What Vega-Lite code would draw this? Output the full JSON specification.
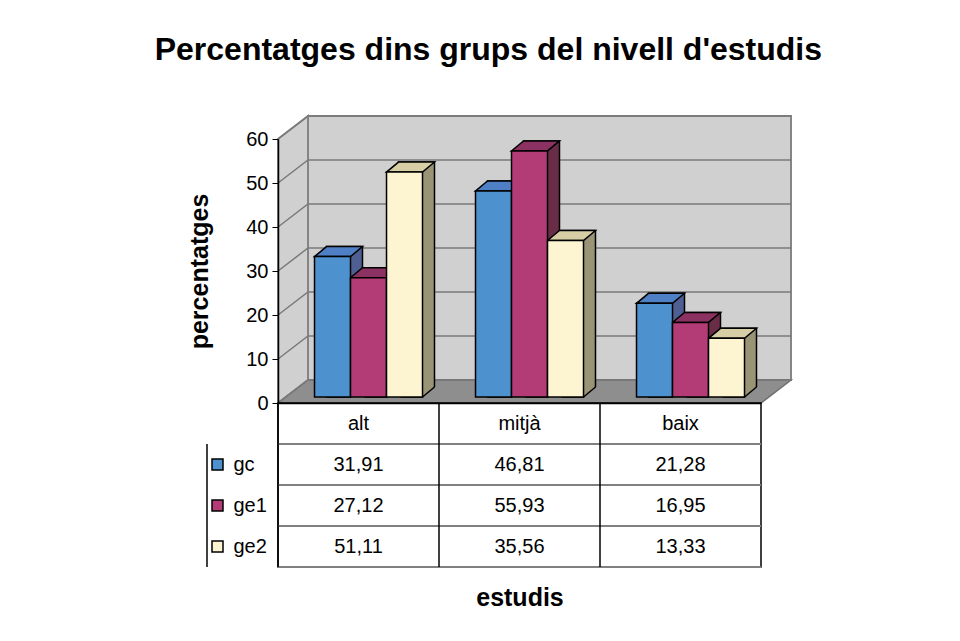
{
  "$schema": "https://vega.github.io/schema/vega-lite/v6.json",
  "padding": {"left": 154, "top": 34, "right": 5, "bottom": 5},
  "background": "white",
  "config": {
    "font": "Liberation Sans",
    "locale": {"number": {"decimal": ",", "thousands": ".", "grouping": [3], "currency": ["", " €"]}},
    "view": {"stroke": null},
    "axis": {"labelFont": "Liberation Sans", "titleFont": "Liberation Sans", "labelColor": "#000000", "titleColor": "#000000"},
    "title": {"font": "Liberation Sans", "fontSize": 32, "fontWeight": "bold", "color": "#000000"}
  },
  "datasets": {
    "dades": [
      {"estudis": "alt", "grup": "gc", "valor": 31.91},
      {"estudis": "alt", "grup": "ge1", "valor": 27.12},
      {"estudis": "alt", "grup": "ge2", "valor": 51.11},
      {"estudis": "mitjà", "grup": "gc", "valor": 46.81},
      {"estudis": "mitjà", "grup": "ge1", "valor": 55.93},
      {"estudis": "mitjà", "grup": "ge2", "valor": 35.56},
      {"estudis": "baix", "grup": "gc", "valor": 21.28},
      {"estudis": "baix", "grup": "ge1", "valor": 16.95},
      {"estudis": "baix", "grup": "ge2", "valor": 13.33}
    ],
    "reixa": [
      {"estudis": "alt", "v": 0}, {"estudis": "alt", "v": 10}, {"estudis": "alt", "v": 20},
      {"estudis": "alt", "v": 30}, {"estudis": "alt", "v": 40}, {"estudis": "alt", "v": 50},
      {"estudis": "alt", "v": 60}
    ]
  },
  "title": {"text": "Percentatges dins grups del nivell d'estudis", "anchor": "middle", "offset": 45, "dx": -3},
  "spacing": 0,
  "bounds": "flush",
  "vconcat": [
    {
      "width": 483,
      "height": 264,
      "data": {"name": "dades"},
      "encoding": {
        "x": {"field": "estudis", "type": "nominal", "scale": {"type": "band", "domain": ["alt", "mitjà", "baix"], "paddingInner": 0, "paddingOuter": 0},
              "axis": {"title": null, "labels": false, "ticks": false, "domain": true, "domainColor": "#000000", "domainWidth": 1.5, "grid": false, "zindex": 1}},
        "y": {"field": "valor", "type": "quantitative", "stack": null, "scale": {"domain": [0, 60], "nice": false},
              "axis": {"values": [0, 10, 20, 30, 40, 50, 60], "grid": false, "domain": true, "domainColor": "#000000", "domainWidth": 1.5, "ticks": true, "tickSize": 6, "tickColor": "#000000", "tickWidth": 1, "labelPadding": 4, "labelFontSize": 20, "title": "percentatges", "titleFontSize": 25, "titleFontWeight": "bold", "titlePadding": 33, "zindex": 1}}
      },
      "resolve": {"scale": {"xOffset": "independent", "fill": "independent"}},
      "layer": [
        {
          "transform": [{"filter": "datum.estudis == 'alt' && datum.grup == 'gc'"}],
          "mark": {"type": "point", "shape": "M-80.5,0L-80.5,-264L-50.5,-287L-50.5,-23Z", "size": 4, "opacity": 1, "filled": true, "fill": "#D0D0D0", "stroke": "#858585", "strokeWidth": 2},
          "encoding": {"y": {"datum": 0, "type": "quantitative", "scale": {"domain": [0, 60], "nice": false},
              "axis": {"values": [0, 10, 20, 30, 40, 50, 60], "grid": false, "domain": true, "domainColor": "#000000", "domainWidth": 1.5, "ticks": true, "tickSize": 6, "tickColor": "#000000", "tickWidth": 1, "labelPadding": 4, "labelFontSize": 20, "title": "percentatges", "titleFontSize": 25, "titleFontWeight": "bold", "titlePadding": 33, "zindex": 1}}}
        },
        {
          "transform": [{"filter": "datum.estudis == 'alt' && datum.grup == 'gc'"}],
          "mark": {"type": "point", "shape": "M-50.5,-23L432.5,-23L432.5,-287L-50.5,-287Z", "size": 4, "opacity": 1, "filled": true, "fill": "#D0D0D0", "stroke": "#858585", "strokeWidth": 2},
          "encoding": {"y": {"datum": 0, "type": "quantitative", "scale": {"domain": [0, 60], "nice": false},
              "axis": {"values": [0, 10, 20, 30, 40, 50, 60], "grid": false, "domain": true, "domainColor": "#000000", "domainWidth": 1.5, "ticks": true, "tickSize": 6, "tickColor": "#000000", "tickWidth": 1, "labelPadding": 4, "labelFontSize": 20, "title": "percentatges", "titleFontSize": 25, "titleFontWeight": "bold", "titlePadding": 33, "zindex": 1}}}
        },
        {
          "transform": [{"filter": "datum.estudis == 'alt' && datum.grup == 'gc'"}],
          "mark": {"type": "point", "shape": "M-80.5,0L402.5,0L432.5,-23L-50.5,-23Z", "size": 4, "opacity": 1, "filled": true, "fill": "#8E8E8E", "stroke": "#707070", "strokeWidth": 1.5},
          "encoding": {"y": {"datum": 0, "type": "quantitative", "scale": {"domain": [0, 60], "nice": false},
              "axis": {"values": [0, 10, 20, 30, 40, 50, 60], "grid": false, "domain": true, "domainColor": "#000000", "domainWidth": 1.5, "ticks": true, "tickSize": 6, "tickColor": "#000000", "tickWidth": 1, "labelPadding": 4, "labelFontSize": 20, "title": "percentatges", "titleFontSize": 25, "titleFontWeight": "bold", "titlePadding": 33, "zindex": 1}}}
        },
        {
          "data": {"name": "reixa"},
          "mark": {"type": "point", "shape": "M-80.5,0L-50.5,-23L432.5,-23", "size": 4, "opacity": 1, "filled": false, "fill": "transparent", "stroke": "#7A7A7A", "strokeWidth": 1.5},
          "encoding": {"y": {"field": "v", "type": "quantitative", "scale": {"domain": [0, 60], "nice": false},
              "axis": {"values": [0, 10, 20, 30, 40, 50, 60], "grid": false, "domain": true, "domainColor": "#000000", "domainWidth": 1.5, "ticks": true, "tickSize": 6, "tickColor": "#000000", "tickWidth": 1, "labelPadding": 4, "labelFontSize": 20, "title": "percentatges", "titleFontSize": 25, "titleFontWeight": "bold", "titlePadding": 33, "zindex": 1}}}
        },
        {
          "mark": {"type": "bar", "yOffset": -16, "y2Offset": -6, "stroke": "#000000", "strokeWidth": 1.5},
          "encoding": {
            "y2": {"datum": 0},
            "xOffset": {"field": "grup", "type": "nominal", "scale": {"type": "band", "domain": ["gc", "ge1", "ge2"], "paddingInner": 0, "paddingOuter": 0.736, "align": 0.915}},
            "fill": {"field": "grup", "type": "nominal", "scale": {"domain": ["gc", "ge1", "ge2"], "range": ["#4F5F93", "#6A2D48", "#9A9476"]}, "legend": null}
          }
        },
        {
          "mark": {"type": "point", "shape": "M18.5,0L30,-10L32,-10L32,2L18.5,2Z", "size": 4, "opacity": 1, "filled": true, "fill": "#8E8E8E", "yOffset": -6},
          "encoding": {
            "xOffset": {"field": "grup", "type": "nominal", "scale": {"type": "band", "domain": ["gc", "ge1", "ge2"], "paddingInner": 0, "paddingOuter": 0.736, "align": 0.689}},
            "y": {"datum": 0, "type": "quantitative", "scale": {"domain": [0, 60], "nice": false},
              "axis": {"values": [0, 10, 20, 30, 40, 50, 60], "grid": false, "domain": true, "domainColor": "#000000", "domainWidth": 1.5, "ticks": true, "tickSize": 6, "tickColor": "#000000", "tickWidth": 1, "labelPadding": 4, "labelFontSize": 20, "title": "percentatges", "titleFontSize": 25, "titleFontWeight": "bold", "titlePadding": 33, "zindex": 1}}
          }
        },
        {
          "mark": {"type": "point", "shape": "M18,0L30,-10", "size": 4, "opacity": 1, "filled": false, "fill": "transparent", "stroke": "#000000", "strokeWidth": 1.5, "yOffset": -6},
          "encoding": {
            "xOffset": {"field": "grup", "type": "nominal", "scale": {"type": "band", "domain": ["gc", "ge1", "ge2"], "paddingInner": 0, "paddingOuter": 0.736, "align": 0.689}},
            "y": {"datum": 0, "type": "quantitative", "scale": {"domain": [0, 60], "nice": false},
              "axis": {"values": [0, 10, 20, 30, 40, 50, 60], "grid": false, "domain": true, "domainColor": "#000000", "domainWidth": 1.5, "ticks": true, "tickSize": 6, "tickColor": "#000000", "tickWidth": 1, "labelPadding": 4, "labelFontSize": 20, "title": "percentatges", "titleFontSize": 25, "titleFontWeight": "bold", "titlePadding": 33, "zindex": 1}}
          }
        },
        {
          "mark": {"type": "point", "shape": "M-18,0L18,0L30,-10L-6,-10Z", "size": 4, "opacity": 1, "filled": true, "stroke": "#000000", "strokeWidth": 1.5, "yOffset": -6},
          "encoding": {
            "xOffset": {"field": "grup", "type": "nominal", "scale": {"type": "band", "domain": ["gc", "ge1", "ge2"], "paddingInner": 0, "paddingOuter": 0.736, "align": 0.689}},
            "fill": {"field": "grup", "type": "nominal", "scale": {"domain": ["gc", "ge1", "ge2"], "range": ["#4F7FC4", "#8B3262", "#D7CEA6"]}, "legend": null}
          }
        },
        {
          "mark": {"type": "bar", "yOffset": -6, "y2Offset": -6, "stroke": "#000000", "strokeWidth": 1.5},
          "encoding": {
            "y2": {"datum": 0},
            "xOffset": {"field": "grup", "type": "nominal", "scale": {"type": "band", "domain": ["gc", "ge1", "ge2"], "paddingInner": 0, "paddingOuter": 0.736, "align": 0.689}},
            "fill": {"field": "grup", "type": "nominal", "scale": {"domain": ["gc", "ge1", "ge2"], "range": ["#4D91CE", "#B33C77", "#FDF4D1"]}, "legend": null}
          }
        }
      ]
    },
    {
      "width": 483,
      "height": 164,
      "data": {"name": "dades"},
      "view": {"stroke": "#000000", "strokeWidth": 1.5},
      "layer": [
        {
          "transform": [{"filter": "datum.estudis == 'alt'"}],
          "mark": {"type": "rule", "color": "#808080", "strokeWidth": 2, "x2Offset": -71},
          "encoding": {"y": {"field": "grup", "type": "nominal", "bandPosition": 0, "scale": {"domain": ["cap", "gc", "ge1", "ge2"], "paddingInner": 0, "paddingOuter": 0},
              "axis": {"values": ["gc", "ge1", "ge2"], "title": null, "domain": false, "ticks": true, "tickSize": 0, "grid": false, "labelAlign": "left", "labelPadding": 45, "labelFontSize": 20}}}
        },
        {
          "transform": [{"filter": "datum.estudis == 'alt' && datum.grup == 'ge2'"}],
          "mark": {"type": "rule", "color": "#808080", "strokeWidth": 2, "x2Offset": -71},
          "encoding": {"y": {"field": "grup", "type": "nominal", "bandPosition": 1, "scale": {"domain": ["cap", "gc", "ge1", "ge2"], "paddingInner": 0, "paddingOuter": 0},
              "axis": {"values": ["gc", "ge1", "ge2"], "title": null, "domain": false, "ticks": true, "tickSize": 0, "grid": false, "labelAlign": "left", "labelPadding": 45, "labelFontSize": 20}}}
        },
        {
          "transform": [{"filter": "datum.grup == 'gc'"}],
          "mark": {"type": "rule", "color": "#000000", "strokeWidth": 1.5},
          "encoding": {"x": {"field": "estudis", "type": "nominal", "bandPosition": 0, "scale": {"domain": ["alt", "mitjà", "baix"], "paddingInner": 0, "paddingOuter": 0},
              "axis": {"title": "estudis", "labels": false, "ticks": false, "domain": false, "grid": false, "titleFontSize": 25, "titleFontWeight": "bold", "titlePadding": 18}}}
        },
        {
          "transform": [{"filter": "datum.estudis == 'alt' && datum.grup == 'gc'"}],
          "mark": {"type": "rule", "color": "#000000", "strokeWidth": 1.5, "xOffset": -71, "yOffset": 41},
          "encoding": {"x": {"field": "estudis", "type": "nominal", "bandPosition": 0, "scale": {"domain": ["alt", "mitjà", "baix"], "paddingInner": 0, "paddingOuter": 0},
              "axis": {"title": "estudis", "labels": false, "ticks": false, "domain": false, "grid": false, "titleFontSize": 25, "titleFontWeight": "bold", "titlePadding": 18}}}
        },
        {
          "transform": [{"filter": "datum.grup == 'gc'"}],
          "mark": {"type": "text", "fontSize": 20, "color": "#000000"},
          "encoding": {
            "x": {"field": "estudis", "type": "nominal", "scale": {"domain": ["alt", "mitjà", "baix"], "paddingInner": 0, "paddingOuter": 0},
              "axis": {"title": "estudis", "labels": false, "ticks": false, "domain": false, "grid": false, "titleFontSize": 25, "titleFontWeight": "bold", "titlePadding": 18}},
            "y": {"datum": "cap", "type": "nominal", "scale": {"domain": ["cap", "gc", "ge1", "ge2"], "paddingInner": 0, "paddingOuter": 0},
              "axis": {"values": ["gc", "ge1", "ge2"], "title": null, "domain": false, "ticks": true, "tickSize": 0, "grid": false, "labelAlign": "left", "labelPadding": 45, "labelFontSize": 20}},
            "text": {"field": "estudis"}
          }
        },
        {
          "mark": {"type": "text", "fontSize": 20, "color": "#000000"},
          "encoding": {
            "x": {"field": "estudis", "type": "nominal", "scale": {"domain": ["alt", "mitjà", "baix"], "paddingInner": 0, "paddingOuter": 0},
              "axis": {"title": "estudis", "labels": false, "ticks": false, "domain": false, "grid": false, "titleFontSize": 25, "titleFontWeight": "bold", "titlePadding": 18}},
            "y": {"field": "grup", "type": "nominal", "scale": {"domain": ["cap", "gc", "ge1", "ge2"], "paddingInner": 0, "paddingOuter": 0},
              "axis": {"values": ["gc", "ge1", "ge2"], "title": null, "domain": false, "ticks": true, "tickSize": 0, "grid": false, "labelAlign": "left", "labelPadding": 45, "labelFontSize": 20}},
            "text": {"field": "valor", "type": "quantitative", "format": ".2f"}
          }
        },
        {
          "transform": [{"filter": "datum.estudis == 'alt'"}],
          "mark": {"type": "point", "shape": "square", "size": 121, "filled": true, "opacity": 1, "stroke": "#000000", "strokeWidth": 1.5, "xOffset": -141},
          "encoding": {
            "x": {"field": "estudis", "type": "nominal", "scale": {"domain": ["alt", "mitjà", "baix"], "paddingInner": 0, "paddingOuter": 0},
              "axis": {"title": "estudis", "labels": false, "ticks": false, "domain": false, "grid": false, "titleFontSize": 25, "titleFontWeight": "bold", "titlePadding": 18}},
            "y": {"field": "grup", "type": "nominal", "scale": {"domain": ["cap", "gc", "ge1", "ge2"], "paddingInner": 0, "paddingOuter": 0},
              "axis": {"values": ["gc", "ge1", "ge2"], "title": null, "domain": false, "ticks": true, "tickSize": 0, "grid": false, "labelAlign": "left", "labelPadding": 45, "labelFontSize": 20}},
            "fill": {"field": "grup", "type": "nominal", "scale": {"domain": ["gc", "ge1", "ge2"], "range": ["#4D91CE", "#B33C77", "#FDF4D1"]}, "legend": null}
          }
        }
      ]
    }
  ]
}
